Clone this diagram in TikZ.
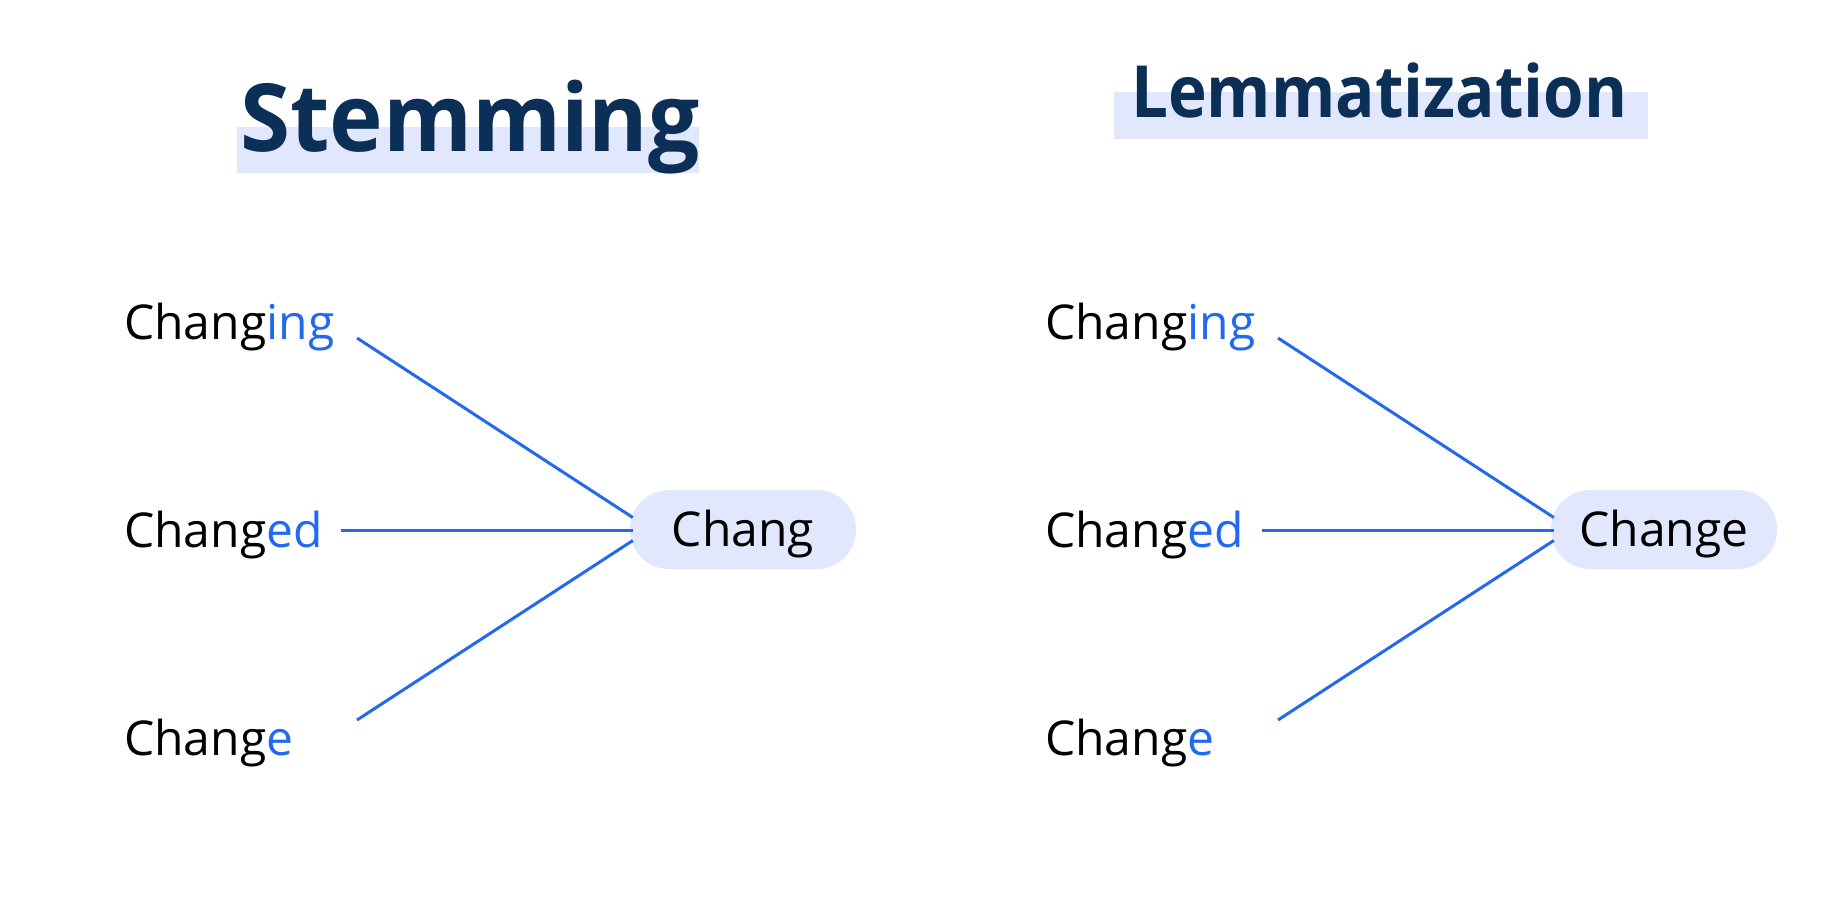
\documentclass[tikz,border=0pt]{standalone}
\usepackage{fontspec}
\setmainfont{Open Sans}
\usetikzlibrary{calc}
\definecolor{navy}{HTML}{0C2F58}
\definecolor{hl}{HTML}{E1E8FD}
\definecolor{accent}{HTML}{2369EE}
\tikzset{
  word/.style={anchor=base west, inner sep=0pt, font=\fontsize{48}{52}\selectfont, text=black},
  title/.style={anchor=base west, inner sep=0pt, text=navy},
  pill/.style={fill=hl, draw=none, rounded corners=39pt, minimum width=226pt, minimum height=79pt,
    inner sep=0pt, text height=34pt, text depth=0pt, font=\fontsize{48}{52}\selectfont},
  link/.style={draw=accent, line width=3pt},
}
\begin{document}
\begin{tikzpicture}[x=1pt,y=-1pt]
\useasboundingbox (0,0) rectangle (1843,922);
% titles
\fill[hl] (237,127) rectangle (699,173);
\node[title, font=\bfseries\fontsize{94}{100}\selectfont] (t1) at (240,151) {\scalebox{0.965}[1]{Stemming}};
\fill[hl] (1114,92) rectangle (1648,139);
\node[title, font=\bfseries\fontsize{72}{80}\selectfont] (t2) at (1131,117) {\scalebox{0.91}[1]{Lemmatization}};
% groups
\foreach \dx/\p/\res in {0/a/Chang, 921/b/Change}{
  \node[word] (\p1) at (124+\dx,339) {Chang\textcolor{accent}{ing}};
  \node[word] (\p2) at (124+\dx,547) {Chang\textcolor{accent}{ed}};
  \node[word] (\p3) at (124+\dx,755) {Chang\textcolor{accent}{e}};
  \node[pill] (\p r) at (743+\dx,529.5) {\res};
  \coordinate (\p s1) at (357+\dx,338);
  \coordinate (\p s2) at (341+\dx,530);
  \coordinate (\p s3) at (357+\dx,720);
  \coordinate (\p e1) at ($(\p r.west)+(3,-12)$);
  \coordinate (\p e2) at ($(\p r.west)+(3,0.5)$);
  \coordinate (\p e3) at ($(\p r.west)+(3,11)$);
  \draw[link] (\p s1) -- (\p e1);
  \draw[link] (\p s2) -- (\p e2);
  \draw[link] (\p s3) -- (\p e3);
}
\end{tikzpicture}
\end{document}
